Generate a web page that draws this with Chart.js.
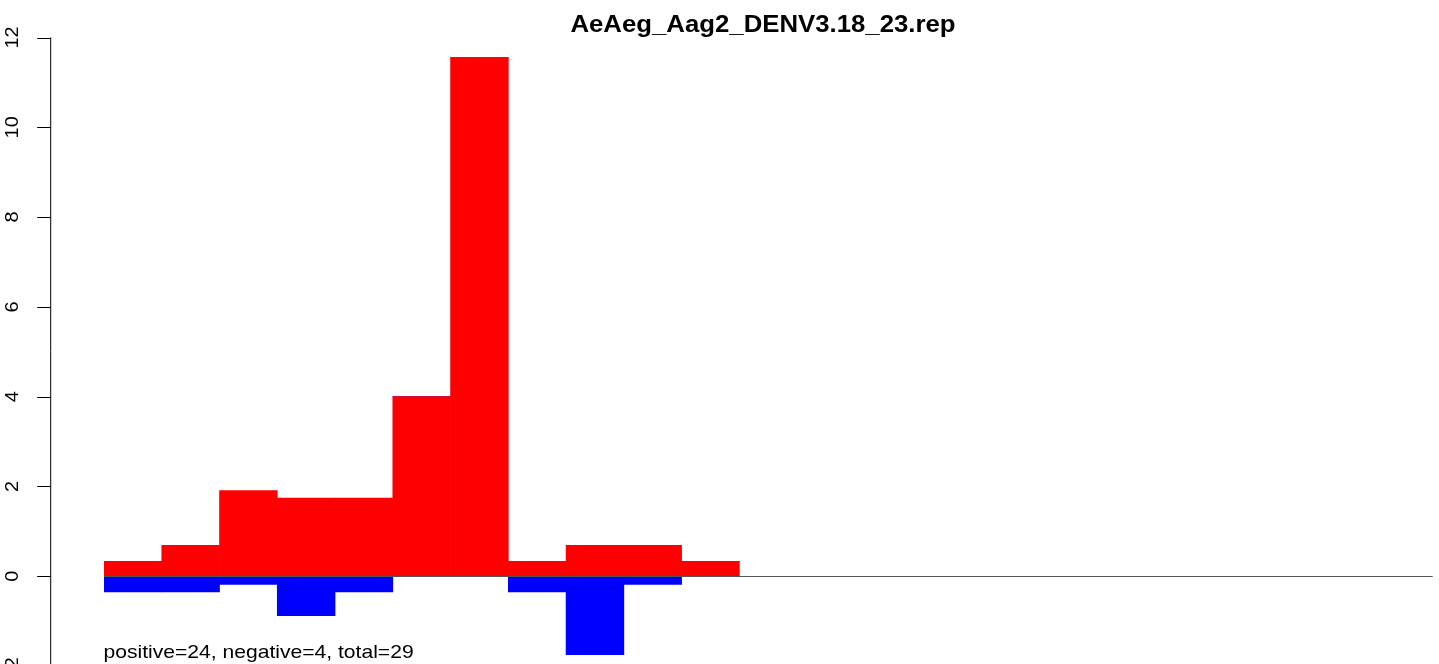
<!DOCTYPE html>
<html>
<head>
<meta charset="UTF-8">
<script src="https://cdn.jsdelivr.net/npm/chart.js"></script>
<style>
    html, body { margin: 0; padding: 0; background: #fff; overflow: hidden; }
    #wrap { width: 1439px; height: 700px; }
</style>
</head>
<body>
<div id="wrap"><canvas id="repChart" width="1439" height="700"></canvas></div>
<script>
// data
var chartTitle = 'AeAeg_Aag2_DENV3.18_23.rep';
var summaryText = 'positive=24, negative=4, total=29';
var binLabels = [];
for (var i = 1; i <= 23; i++) binLabels.push(String(i));
var positiveValues = [0.33, 0.69, 1.91, 1.74, 1.74, 4.0, 11.55, 0.33, 0.69, 0.69, 0.33,
                      0, 0, 0, 0, 0, 0, 0, 0, 0, 0, 0, 0];
var negativeValues = [-0.35, -0.35, -0.18, -0.88, -0.35, 0, 0, -0.35, -1.75, -0.18, 0,
                      0, 0, 0, 0, 0, 0, 0, 0, 0, 0, 0, 0];
var yTicks = [-2, 0, 2, 4, 6, 8, 10, 12];

// text drawn a bit wider than tall, like the original png
function stretchedText(ctx, text, x, y, sx) {
    ctx.save();
    ctx.translate(x, y);
    ctx.scale(sx, 1);
    ctx.fillText(text, 0, 0);
    ctx.restore();
}

// draws the R-style left axis, zero line and texts
var rStyle = {
    id: 'rStyle',
    afterDatasetsDraw: function (chart) {
        var ctx = chart.ctx;
        var y = chart.scales.y;
        var area = chart.chartArea;
        var axisX = area.left - 53.3;

        ctx.save();
        // zero line
        ctx.strokeStyle = '#555';
        ctx.lineWidth = 1;
        ctx.beginPath();
        ctx.moveTo(area.left, Math.round(y.getPixelForValue(0)) + 0.5);
        ctx.lineTo(area.right, Math.round(y.getPixelForValue(0)) + 0.5);
        ctx.stroke();

        // y axis
        ctx.strokeStyle = '#000';
        ctx.beginPath();
        ctx.moveTo(axisX, y.getPixelForValue(yTicks[yTicks.length - 1]));
        ctx.lineTo(axisX, y.getPixelForValue(yTicks[0]));
        yTicks.forEach(function (t) {
            var py = Math.round(y.getPixelForValue(t)) + 0.5;
            ctx.moveTo(axisX, py);
            ctx.lineTo(axisX - 13.5, py);
        });
        ctx.stroke();

        ctx.fillStyle = '#000';
        ctx.font = '19px "Liberation Sans", Arial, sans-serif';
        ctx.textAlign = 'center';
        ctx.textBaseline = 'middle';
        yTicks.forEach(function (t) {
            ctx.save();
            ctx.translate(12.5, y.getPixelForValue(t));
            ctx.rotate(-Math.PI / 2);
            ctx.scale(1.05, 1);
            ctx.fillText(String(t), 0, 0);
            ctx.restore();
        });

        // title
        ctx.font = 'bold 23px "Liberation Sans", Arial, sans-serif';
        ctx.textAlign = 'center';
        ctx.textBaseline = 'alphabetic';
        stretchedText(ctx, chartTitle, 763, 31.5, 1.12);

        // summary
        ctx.font = '19px "Liberation Sans", Arial, sans-serif';
        ctx.textAlign = 'left';
        stretchedText(ctx, summaryText, area.left - 0.5, 657.5, 1.11);
        ctx.restore();
    }
};

var ctxRep = document.getElementById('repChart').getContext('2d');
var repChart = new Chart(ctxRep, {
    type: 'bar',
    data: {
        labels: binLabels,
        datasets: [{
            data: positiveValues,
            backgroundColor: '#ff0000',
            borderWidth: 0,
            barPercentage: 1,
            categoryPercentage: 1
        }, {
            data: negativeValues,
            backgroundColor: '#0000ff',
            borderWidth: 0,
            barPercentage: 1,
            categoryPercentage: 1
        }]
    },
    options: {
        responsive: false,
        animation: false,
        layout: { padding: { left: 104, right: 6.5, top: 37.5, bottom: 34 } },
        plugins: { legend: { display: false }, tooltip: { enabled: false }, title: { display: false } },
        scales: {
            x: { stacked: true, display: false, grid: { display: false } },
            y: { stacked: true, display: false, min: -2, max: 12, grid: { display: false } }
        }
    },
    plugins: [rStyle]
});
</script>
</body>
</html>
